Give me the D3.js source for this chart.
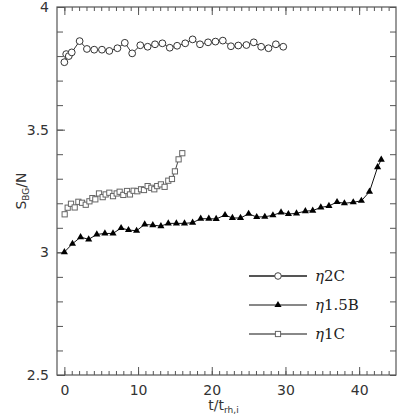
<!DOCTYPE html>
<html>
<head>
<meta charset="utf-8">
<script src="https://cdn.jsdelivr.net/npm/d3@7"></script>
<style>
  body { margin: 0; background: #fff; }
  .tick text { font-family: "DejaVu Sans", sans-serif; font-size: 14px; fill: #333; }
  .tick line { stroke: #555; }
  .label { font-family: "DejaVu Sans", sans-serif; font-size: 14px; fill: #333; }
  .legend { font-family: "DejaVu Serif", serif; font-size: 15px; fill: #222; }
</style>
</head>
<body>
<div class="chart"></div>
<script>
// data
var t2C = [0, 0.25, 0.6, 1.0, 2.07, 3.06, 4.05, 5.1, 6.1, 7.2, 8.2, 9.2, 10.3, 11.3, 12.3, 13.3, 14.3,
  15.3, 16.4, 17.4, 18.4, 19.5, 20.5, 21.5, 22.6, 23.6, 24.7, 25.7, 26.7, 27.7, 28.7, 29.7];
var s2C = [3.775, 3.808, 3.800, 3.815, 3.861, 3.829, 3.826, 3.826, 3.821, 3.832, 3.854, 3.811, 3.844,
  3.838, 3.848, 3.852, 3.834, 3.842, 3.852, 3.868, 3.848, 3.856, 3.859, 3.863, 3.840, 3.843,
  3.845, 3.856, 3.838, 3.832, 3.848, 3.838];

var t15B = [0, 1.1, 2.2, 3.3, 4.4, 5.5, 6.6, 7.7, 8.7, 9.8, 10.9, 12.0, 13.1, 14.1, 15.2, 16.3, 17.4,
  18.5, 19.6, 20.6, 21.8, 22.8, 23.9, 25.0, 26.1, 27.2, 28.3, 29.4, 30.4, 31.5, 32.7, 33.7, 34.8,
  35.9, 37.0, 38.0, 39.2, 40.3, 41.4, 42.5, 43.0];
var s15B = [3.001, 3.035, 3.062, 3.053, 3.073, 3.077, 3.077, 3.099, 3.091, 3.088, 3.114, 3.111, 3.107,
  3.118, 3.118, 3.118, 3.121, 3.137, 3.137, 3.136, 3.152, 3.140, 3.140, 3.157, 3.144, 3.145,
  3.151, 3.163, 3.156, 3.159, 3.168, 3.170, 3.183, 3.189, 3.205, 3.200, 3.204, 3.210, 3.247,
  3.347, 3.378];

var t1C = [0.04, 0.45, 0.9, 1.4, 1.9, 2.4, 2.9, 3.4, 3.8, 4.2, 4.7, 5.2, 5.6, 6.1, 6.6, 7.1, 7.5, 8.0,
  8.5, 8.9, 9.4, 9.9, 10.4, 10.8, 11.3, 11.8, 12.2, 12.6, 13.1, 13.6, 14.1, 14.6, 15.0, 15.5, 16.0];
var s1C = [3.155, 3.182, 3.198, 3.183, 3.206, 3.202, 3.194, 3.208, 3.221, 3.216, 3.240, 3.225, 3.236,
  3.243, 3.229, 3.240, 3.247, 3.234, 3.250, 3.236, 3.251, 3.249, 3.257, 3.254, 3.270, 3.263,
  3.257, 3.270, 3.277, 3.267, 3.292, 3.299, 3.330, 3.379, 3.404];

var xMajor = [0, 10, 20, 30, 40];
var yMajor = [2.5, 3, 3.5, 4];

// dimensions
var W = 398, H = 419;
var margin = {top: 7, right: 2, bottom: 44, left: 57};
var width = W - margin.left - margin.right;
var height = H - margin.top - margin.bottom;

var x = d3.scaleLinear().domain([-1, 45]).range([0, width]);
var y = d3.scaleLinear().domain([2.5, 4]).range([height, 0]);

var svg = d3.select(".chart").append("svg")
  .attr("width", W).attr("height", H);
var chart = svg.append("g")
  .attr("transform", "translate(" + margin.left + "," + margin.top + ")");

// axes: minor and major ticks, all pointing inward
function clean(g) { g.select(".domain").remove(); }

chart.append("g").attr("transform", "translate(0," + height + ")")
  .call(d3.axisBottom(x).tickValues(d3.range(0, 45)).tickSize(-4).tickFormat("")).call(clean);
chart.append("g").attr("transform", "translate(0," + height + ")")
  .call(d3.axisBottom(x).tickValues(xMajor).tickSizeInner(-8).tickSizeOuter(0).tickPadding(10)
    .tickFormat(d3.format("d"))).call(clean);
chart.append("g")
  .call(d3.axisTop(x).tickValues(d3.range(0, 45)).tickSize(-4).tickFormat("")).call(clean);
chart.append("g")
  .call(d3.axisTop(x).tickValues(xMajor).tickSize(-8).tickFormat("")).call(clean);

var yMinor = d3.range(25, 41).map(function(d) { return d / 10; });
chart.append("g")
  .call(d3.axisLeft(y).tickValues(yMinor).tickSize(-6).tickFormat("")).call(clean);
chart.append("g")
  .call(d3.axisLeft(y).tickValues(yMajor).tickSizeInner(-8).tickSizeOuter(0).tickPadding(8)
    .tickFormat(function(d) { return d3.format("")(d); })).call(clean);
chart.append("g").attr("transform", "translate(" + width + ",0)")
  .call(d3.axisRight(y).tickValues(yMinor).tickSize(-6).tickFormat("")).call(clean);

// frame
chart.append("rect")
  .attr("width", width).attr("height", height)
  .attr("fill", "none").attr("stroke", "#555").attr("stroke-width", 1.2);

// series
var line = d3.line()
  .x(function(d) { return x(d[0]); })
  .y(function(d) { return y(d[1]); });

function pairs(t, s) { return t.map(function(d, i) { return [d, s[i]]; }); }

var d2C = pairs(t2C, s2C), d15B = pairs(t15B, s15B), d1C = pairs(t1C, s1C);

chart.append("path").datum(d2C).attr("d", line)
  .attr("fill", "none").attr("stroke", "#333").attr("stroke-width", 1);
chart.append("path").datum(d15B).attr("d", line)
  .attr("fill", "none").attr("stroke", "#111").attr("stroke-width", 1);
chart.append("path").datum(d1C).attr("d", line)
  .attr("fill", "none").attr("stroke", "#444").attr("stroke-width", 1);

var tri = d3.symbol().type(d3.symbolTriangle).size(22);

chart.selectAll(".c2")
  .data(d2C).enter().append("circle")
  .attr("cx", function(d) { return x(d[0]); })
  .attr("cy", function(d) { return y(d[1]); })
  .attr("r", 3.4)
  .attr("fill", "#fff").attr("stroke", "#333").attr("stroke-width", 1);

chart.selectAll(".t15")
  .data(d15B).enter().append("path")
  .attr("d", tri)
  .attr("transform", function(d) { return "translate(" + x(d[0]) + "," + y(d[1]) + ")"; })
  .attr("fill", "#000");

chart.selectAll(".s1")
  .data(d1C).enter().append("rect")
  .attr("x", function(d) { return x(d[0]) - 2.6; })
  .attr("y", function(d) { return y(d[1]) - 2.6; })
  .attr("width", 5.2).attr("height", 5.2)
  .attr("fill", "#fff").attr("stroke", "#666").attr("stroke-width", 1);

// legend
var legend = [
  {name: "2C", sym: "circle", stroke: "#555", sw: 1.8},
  {name: "1.5B", sym: "tri", stroke: "#111", sw: 1},
  {name: "1C", sym: "square", stroke: "#888", sw: 1.8}
];
var lg = chart.selectAll(".lg").data(legend).enter().append("g")
  .attr("transform", function(d, i) { return "translate(192," + (269 + i * 29) + ")"; });
lg.append("line").attr("x1", 0).attr("x2", 58)
  .attr("stroke", function(d) { return d.stroke; })
  .attr("stroke-width", function(d) { return d.sw; });
lg.each(function(d) {
  var g = d3.select(this);
  if (d.sym === "circle") {
    g.append("circle").attr("cx", 29).attr("r", 3.3)
      .attr("fill", "#fff").attr("stroke", "#444");
  } else if (d.sym === "tri") {
    g.append("path").attr("d", tri).attr("transform", "translate(29,0)").attr("fill", "#000");
  } else {
    g.append("rect").attr("x", 26.4).attr("y", -2.6).attr("width", 5.2).attr("height", 5.2)
      .attr("fill", "#fff").attr("stroke", "#666");
  }
});
var lt = lg.append("text").attr("class", "legend").attr("x", 66).attr("dy", "0.35em");
lt.append("tspan").attr("font-style", "italic").text("η");
lt.append("tspan").text(function(d) { return d.name; });

// x label
var xl = chart.append("text").attr("class", "label")
  .attr("x", width / 2 - 3).attr("y", height + 35)
  .attr("text-anchor", "middle");
xl.append("tspan").text("t/t");
xl.append("tspan").attr("font-size", "9px").attr("dy", "3").text("rh,i");

// y label
var yl = chart.append("text").attr("class", "label")
  .attr("transform", "rotate(-90)")
  .attr("x", -(y(3.25)))
  .attr("y", -margin.left + 26)
  .attr("text-anchor", "middle");
yl.append("tspan").text("S");
yl.append("tspan").attr("font-size", "9px").attr("dy", "3").text("BG");
yl.append("tspan").attr("dy", "-3").text("/N");
</script>
</body>
</html>
